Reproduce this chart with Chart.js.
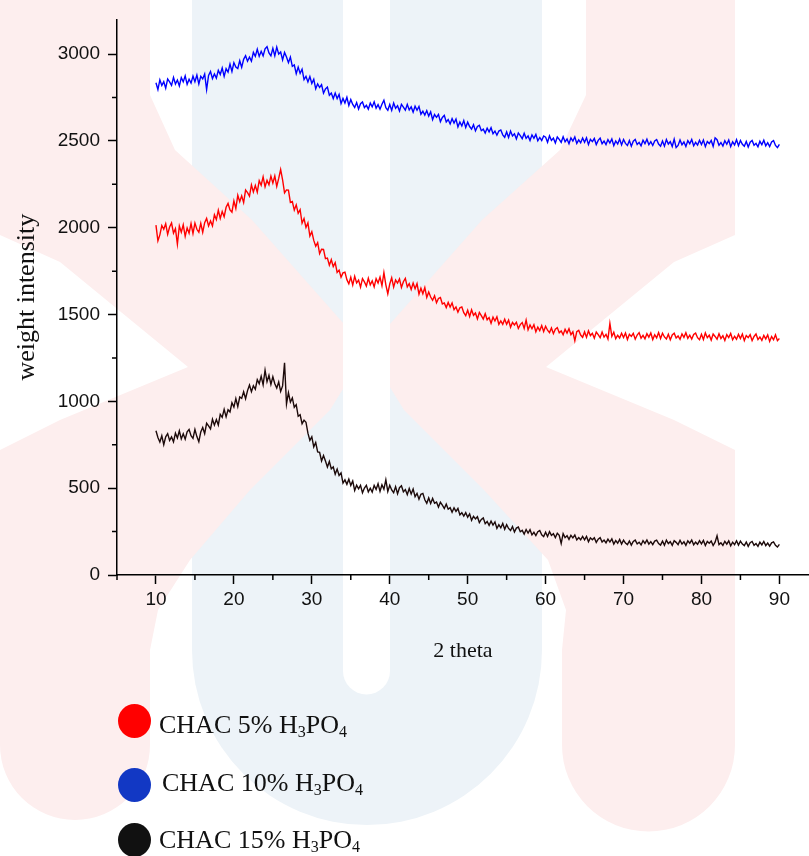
<!DOCTYPE html>
<html>
<head>
<meta charset="utf-8">
<script src="https://cdn.jsdelivr.net/npm/chart.js@4.4.1/dist/chart.umd.min.js"></script>
<style>
html,body{margin:0;padding:0;background:#fff;}
#wrap{position:relative;width:809px;height:856px;overflow:hidden;}
#chart{position:absolute;left:0;top:0;}
.dot{position:absolute;width:33px;height:34px;border-radius:50%;}
.lbl{position:absolute;font-family:"Liberation Serif","Times New Roman",serif;font-size:26px;line-height:26px;color:#111;white-space:nowrap;}
.lbl sub{font-size:16px;line-height:0;vertical-align:-4px;}
</style>
</head>
<body>
<div id="wrap">
<canvas id="chart" width="809" height="856"></canvas>
<div id="legend"></div>
</div>
<script>
// ---- data (2 theta from 10 to 90, every 0.25 degree) ----
const thetaStart = 10;
const thetaStep = 0.25;

const seriesNames = ['CHAC 5% H3PO4', 'CHAC 10% H3PO4', 'CHAC 15% H3PO4'];
const lineColors = ['#ff0000', '#0000ff', '#1c0a0a'];
const legendColors = ['#ff0000', '#1238c4', '#111111'];

const xMajorTicks = [10, 20, 30, 40, 50, 60, 70, 80, 90];
const xMinorTicks = [5, 15, 25, 35, 45, 55, 65, 75, 85];
const yMajorTicks = [0, 500, 1000, 1500, 2000, 2500, 3000];
const yMinorTicks = [250, 750, 1250, 1750, 2250, 2750];

const chac5 = [
2015,1925,1959,2013,1991,2023,1962,2004,2027,1969,1995,1905,2010,1974,2017,1950,1999,1969,2024,1967,
2027,1991,1974,2026,1974,2029,2054,2010,2039,2011,2075,2047,2101,2054,2094,2064,2118,2140,2103,2090,
2155,2111,2187,2150,2184,2145,2217,2202,2182,2247,2206,2243,2205,2271,2245,2293,2236,2273,2247,2297,
2257,2299,2238,2284,2335,2276,2201,2218,2217,2146,2151,2102,2132,2083,2104,2026,2053,2002,2028,1952,
1977,1927,1893,1914,1851,1876,1875,1822,1825,1784,1816,1776,1799,1743,1756,1715,1740,1744,1701,1677,
1715,1670,1720,1682,1698,1658,1707,1688,1664,1709,1671,1694,1659,1707,1682,1716,1666,1742,1671,1620,
1676,1712,1658,1699,1681,1705,1656,1689,1708,1659,1678,1645,1682,1649,1678,1618,1652,1620,1655,1599,
1630,1601,1582,1608,1568,1593,1598,1561,1567,1540,1570,1543,1567,1528,1544,1514,1539,1544,1511,1494,
1525,1489,1528,1496,1509,1475,1512,1494,1474,1505,1470,1483,1450,1485,1463,1487,1444,1464,1444,1473,
1444,1468,1427,1455,1440,1456,1420,1442,1454,1420,1468,1412,1440,1418,1441,1401,1428,1408,1437,1402,
1433,1410,1396,1423,1390,1416,1425,1395,1406,1384,1415,1393,1418,1384,1401,1350,1402,1409,1382,1369,
1400,1369,1406,1379,1392,1364,1399,1384,1367,1399,1370,1386,1359,1449,1374,1398,1361,1381,1365,1392,
1368,1394,1356,1386,1374,1392,1358,1382,1396,1364,1380,1360,1390,1370,1394,1356,1384,1366,1396,1362,
1393,1371,1359,1387,1355,1383,1393,1365,1377,1357,1389,1369,1395,1363,1381,1359,1385,1393,1367,1355,
1386,1356,1394,1367,1381,1353,1388,1374,1358,1390,1362,1378,1351,1385,1367,1391,1355,1375,1358,1386,
1362,1388,1350,1379,1367,1384,1350,1374,1388,1356,1371,1351,1380,1360,1383,1345,1373,1355,1384,1350,
1362];

const chac10 = [
2835,2796,2852,2819,2841,2804,2857,2840,2820,2866,2828,2851,2817,2865,2840,2875,2826,2855,2833,2873,
2841,2879,2828,2872,2857,2885,2795,2877,2900,2859,2886,2862,2907,2883,2920,2872,2916,2896,2943,2900,
2951,2926,2917,2962,2924,2970,2991,2959,2983,2960,3010,2987,3028,2987,3016,2990,3031,3043,3007,2990,
3034,2990,3040,3000,3013,2967,3010,2983,2951,2983,2930,2938,2887,2925,2889,2913,2853,2872,2840,2871,
2831,2855,2800,2829,2808,2824,2775,2799,2810,2763,2776,2744,2776,2744,2768,2715,2745,2718,2751,2704,
2738,2710,2693,2721,2684,2714,2724,2692,2705,2683,2718,2696,2725,2689,2709,2683,2711,2734,2691,2677,
2710,2676,2718,2688,2703,2672,2711,2695,2677,2711,2679,2696,2666,2700,2677,2699,2654,2671,2649,2675,
2643,2668,2623,2652,2636,2653,2611,2635,2647,2609,2623,2598,2628,2603,2626,2581,2609,2586,2617,2577,
2608,2583,2568,2593,2558,2583,2590,2559,2568,2545,2574,2552,2576,2541,2557,2533,2557,2563,2535,2521,
2552,2520,2557,2529,2541,2512,2546,2531,2513,2544,2515,2529,2502,2535,2515,2538,2501,2520,2503,2529,
2522,2492,2529,2503,2516,2488,2523,2509,2492,2524,2495,2511,2484,2518,2499,2523,2486,2506,2489,2517,
2492,2518,2479,2509,2496,2514,2479,2503,2516,2484,2499,2479,2508,2488,2511,2473,2500,2482,2511,2477,
2508,2486,2474,2502,2470,2498,2508,2480,2492,2472,2504,2484,2510,2478,2496,2474,2500,2508,2482,2470,
2500,2470,2508,2482,2496,2468,2510,2462,2474,2506,2478,2494,2468,2502,2484,2508,2472,2492,2476,2504,
2479,2505,2467,2497,2485,2503,2469,2518,2507,2475,2491,2471,2501,2481,2505,2467,2495,2477,2507,2473,
2503,2481,2469,2497,2465,2493,2503,2475,2486,2466,2498,2478,2504,2472,2490,2468,2494,2502,2474,2462,
2480];

const chac15 = [
831,792,766,802,751,796,814,775,795,767,817,789,830,784,813,782,824,838,802,787,
838,797,768,824,850,814,874,859,841,897,863,895,864,925,908,954,911,952,939,992,
967,1016,970,1025,1017,1055,1015,1062,1094,1056,1090,1070,1125,1102,1145,1095,1180,1113,1150,1098,
1142,1102,1077,1112,1057,1089,1222,985,1050,996,1020,966,981,914,923,871,892,880,817,775,
796,738,763,709,706,657,688,656,622,654,611,623,581,610,573,588,529,548,522,552,
516,541,487,517,496,516,473,501,517,479,500,477,516,493,526,482,520,494,548,481,
517,490,474,509,468,503,514,479,492,463,498,467,495,451,470,437,465,470,433,413,
444,412,441,413,420,391,419,402,383,408,379,388,361,387,366,383,346,359,339,359,
333,352,315,338,323,336,302,320,329,296,308,286,310,288,306,268,290,272,297,263,
290,268,256,279,248,270,276,249,257,236,262,241,261,231,246,227,249,256,232,221,
247,222,250,228,238,215,241,229,182,238,215,226,205,229,214,230,202,216,203,222,
203,222,192,214,203,215,188,206,215,190,201,185,207,190,208,178,198,183,205,178,
201,184,175,196,172,193,201,179,189,173,198,182,202,178,192,175,195,201,181,172,
195,172,201,181,192,171,198,188,175,200,178,191,171,197,183,201,174,189,177,198,
179,199,170,193,183,196,170,189,226,175,186,171,194,178,197,168,189,175,197,172,
195,178,169,190,165,186,193,171,181,165,189,173,193,169,184,166,185,191,171,161,
176];

const seriesValues = [chac5, chac10, chac15];

function toPoints(values) {
  return values.map((v, i) => ({ x: thetaStart + i * thetaStep, y: v }));
}

// ---- faint background watermark ----
function drawWatermark(ctx) {
  ctx.save();
  // light blue U
  ctx.fillStyle = '#edf3f8';
  ctx.beginPath();
  ctx.moveTo(192, 0);
  ctx.lineTo(192, 650);
  ctx.arc(367, 650, 175, Math.PI, 0, true);
  ctx.lineTo(542, 0);
  ctx.closePath();
  ctx.fill();
  // pink chevrons
  ctx.fillStyle = '#fdeeee';
  // left ">" shape
  const leftTop = [[0,0],[150,0],[150,95],[175,150],[252,220],[367,350],[330,410],[250,490],[190,560],[158,610],[150,650],[150,745]];
  const leftBack = [[0,745],[0,450],[60,420],[188,367],[60,262],[0,235]];
  ctx.beginPath();
  leftTop.forEach((p, i) => i ? ctx.lineTo(p[0], p[1]) : ctx.moveTo(p[0], p[1]));
  ctx.arc(75, 745, 75, 0, Math.PI, false);
  leftBack.forEach(p => ctx.lineTo(p[0], p[1]));
  ctx.closePath();
  ctx.fill();
  // right "<" shape
  const rightTop = [[735,0],[586,0],[586,95],[560,150],[482,220],[367,350],[404,410],[484,490],[548,560],[566,610],[562,650],[562,745]];
  const rightBack = [[735,745],[735,450],[674,420],[546,367],[674,262],[735,235]];
  ctx.beginPath();
  rightTop.forEach((p, i) => i ? ctx.lineTo(p[0], p[1]) : ctx.moveTo(p[0], p[1]));
  ctx.arc(648.5, 745, 86.5, Math.PI, 0, true);
  rightBack.forEach(p => ctx.lineTo(p[0], p[1]));
  ctx.closePath();
  ctx.fill();
  // white centre gap
  ctx.fillStyle = '#ffffff';
  ctx.beginPath();
  ctx.moveTo(343, 0);
  ctx.lineTo(343, 671);
  ctx.arc(366.5, 671, 23.5, Math.PI, 0, true);
  ctx.lineTo(390, 0);
  ctx.closePath();
  ctx.fill();
  ctx.restore();
}

const watermark = {
  id: 'watermark',
  beforeDraw(chart) { drawWatermark(chart.ctx); }
};

const minorTicks = {
  id: 'minorTicks',
  afterDraw(chart) {
    const { ctx, scales: { x, y }, chartArea: a } = chart;
    ctx.save();
    ctx.strokeStyle = '#000';
    ctx.lineWidth = 1.5;
    ctx.beginPath();
    xMinorTicks.forEach(v => {
      const px = x.getPixelForValue(v);
      ctx.moveTo(px, a.bottom);
      ctx.lineTo(px, a.bottom + 5);
    });
    yMinorTicks.forEach(v => {
      const py = y.getPixelForValue(v);
      ctx.moveTo(a.left, py);
      ctx.lineTo(a.left - 5, py);
    });
    ctx.stroke();
    ctx.restore();
  }
};

const datasets = seriesNames.map((name, i) => ({
  label: name,
  data: toPoints(seriesValues[i]),
  borderColor: lineColors[i],
  backgroundColor: legendColors[i],
  borderWidth: 1.4,
  pointRadius: 0,
  tension: 0,
  fill: false
}));

new Chart(document.getElementById('chart'), {
  type: 'line',
  data: { datasets },
  options: {
    responsive: false,
    animation: false,
    devicePixelRatio: 1,
    layout: { autoPadding: false, padding: { top: 9, left: 0, right: 0, bottom: 176 } },
    plugins: { legend: { display: false }, tooltip: { enabled: false } },
    scales: {
      x: {
        type: 'linear',
        min: 5,
        max: 93.8,
        afterBuildTicks: s => { s.ticks = xMajorTicks.map(v => ({ value: v })); },
        afterFit: s => { s.height = 105; },
        grid: { display: true, drawOnChartArea: false, drawTicks: true, tickLength: 9, tickWidth: 1.5, tickColor: '#000' },
        border: { display: true, color: '#000', width: 1.5 },
        ticks: { font: { family: 'Liberation Sans', size: 19 }, color: '#111', padding: 4, maxRotation: 0, autoSkip: false, callback: v => String(v) },
        title: { display: true, text: '2 theta', color: '#111', font: { family: 'Liberation Serif', size: 22 }, padding: { top: 0, bottom: 16 } }
      },
      y: {
        type: 'linear',
        min: 0,
        max: 3200,
        afterBuildTicks: s => { s.ticks = yMajorTicks.map(v => ({ value: v })); },
        afterFit: s => { s.width = 117; },
        grid: { display: true, drawOnChartArea: false, drawTicks: true, tickLength: 9, tickWidth: 1.5, tickColor: '#000' },
        border: { display: true, color: '#000', width: 1.5 },
        ticks: { font: { family: 'Liberation Sans', size: 19 }, color: '#111', padding: 8, autoSkip: false, callback: v => String(v) },
        title: { display: true, text: 'weight intensity', color: '#111', font: { family: 'Liberation Serif', size: 26 }, padding: { top: 12, bottom: 0 } }
      }
    }
  },
  plugins: [watermark, minorTicks]
});

// ---- HTML legend (with chemical subscripts) ----
const legendDotTops = [704, 768, 823];
const legendTextLefts = [159, 162, 159];
const legendTextTops = [712, 770, 827];
const legendEl = document.getElementById('legend');
seriesNames.forEach((name, i) => {
  const dot = document.createElement('div');
  dot.className = 'dot';
  dot.style.left = '118px';
  dot.style.top = legendDotTops[i] + 'px';
  dot.style.background = legendColors[i];
  legendEl.appendChild(dot);
  const lbl = document.createElement('div');
  lbl.className = 'lbl';
  lbl.style.left = legendTextLefts[i] + 'px';
  lbl.style.top = legendTextTops[i] + 'px';
  lbl.innerHTML = name.replace(/H3PO4/, 'H<sub>3</sub>PO<sub>4</sub>');
  legendEl.appendChild(lbl);
});
</script>
</body>
</html>
